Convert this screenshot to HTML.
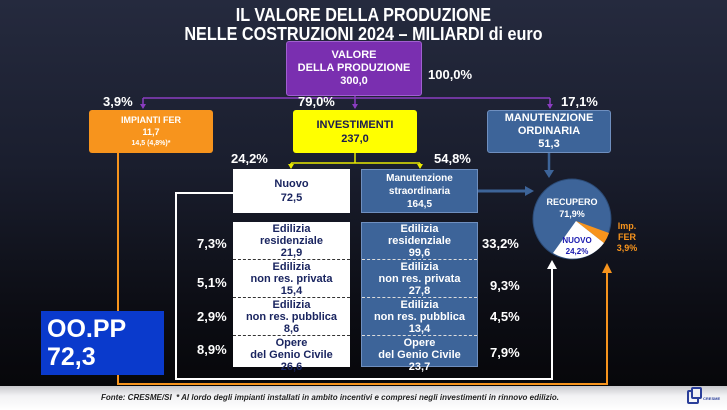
<!DOCTYPE html>
<html><head><meta charset="utf-8"><style>
*{margin:0;padding:0;box-sizing:border-box}
body{width:727px;height:410px;overflow:hidden;position:relative;font-family:"Liberation Sans",sans-serif;font-weight:bold;background:linear-gradient(180deg,#252a3e 0%,#1a1e2e 40%,#0c0d14 75%,#050507 100%);color:#fff}
.a{position:absolute}
.box{position:absolute;text-align:center;display:flex;flex-direction:column;justify-content:center;font-size:11px;line-height:13px}
.t{position:absolute;width:727px;text-align:center;font-size:18px;line-height:20px;transform:scaleX(0.9);transform-origin:363px 0}
.p{position:absolute;font-size:13px;font-weight:bold}
.row{position:absolute;left:0;width:100%;text-align:center;font-size:11px;line-height:12px;font-weight:bold}
</style></head><body>
<div class="t" style="top:5px">IL VALORE DELLA PRODUZIONE</div>
<div class="t" style="top:24px">NELLE COSTRUZIONI 2024 – MILIARDI <span style="font-weight:bold">di euro</span></div>

<svg class="a" style="left:0;top:0" width="727" height="410">
<g stroke="#8a3cc0" stroke-width="1.5" fill="none">
<path d="M355,96 V108"/><path d="M143,98 H550"/><path d="M143,98 V108"/><path d="M550,98 V108"/>
</g>
<path d="M140,104 h6 l-3,5z M352,104 h6 l-3,5z M547,104 h6 l-3,5z" fill="#8a3cc0"/>
<g stroke="#e8e800" stroke-width="1.5" fill="none"><path d="M355,153 V163 M291,163 H420 M291,163 V168 M420,163 V168"/></g>
<path d="M288,164 h6 l-3,5z M417,164 h6 l-3,5z" fill="#e8e800"/>
<path d="M549,153 V172" stroke="#3d6499" stroke-width="2.5"/><path d="M544,170 h10 l-5,8z" fill="#3d6499"/>
<path d="M478,191 H527" stroke="#3d6499" stroke-width="3"/><path d="M525,186 v10 l9,-5z" fill="#3d6499"/>
<path d="M233,193 H176 V379 H552 V268" stroke="#fff" stroke-width="2" fill="none"/>
<path d="M547,269 h10 l-5,-9z" fill="#fff"/>
<path d="M118,153 V384 H607 V272" stroke="#f7941d" stroke-width="2" fill="none"/>
<path d="M602,273 h10 l-5,-10z" fill="#f7941d"/>
<ellipse cx="572" cy="219" rx="39" ry="40" fill="#3d6499" stroke="#2b4a75" stroke-width="1"/>
<path d="M576,221 L553,253 A39,40 0 0 0 604,243 Z" fill="#fff"/>
<path d="M576,221 L604,243 A39,40 0 0 0 609,233 Z" fill="#f7941d"/>
</svg>

<div class="box" style="left:286px;top:41px;width:136px;height:55px;background:#7a2fb0;border:1px solid #a060d0;border-radius:3px;font-size:11px">VALORE<br>DELLA PRODUZIONE<br>300,0</div>
<div class="p" style="left:428px;top:67px">100,0%</div>
<div class="p" style="left:103px;top:94px">3,9%</div>
<div class="p" style="left:298px;top:94px">79,0%</div>
<div class="p" style="left:561px;top:94px">17,1%</div>

<div class="box" style="left:89px;top:110px;width:124px;height:43px;background:#f7941d;border-radius:3px;font-size:9px;line-height:12px">IMPIANTI FER<br>11,7<br><span style="font-size:7px">14,5 (4,8%)*</span></div>
<div class="box" style="left:293px;top:110px;width:124px;height:43px;background:#ffff00;color:#1a1a50;border-radius:3px;font-size:11px;line-height:14px">INVESTIMENTI<br>237,0</div>
<div class="box" style="left:487px;top:110px;width:124px;height:43px;background:#3d6499;border:1px solid #6f8fbf;border-radius:3px;font-size:11px;line-height:13px">MANUTENZIONE<br>ORDINARIA<br>51,3</div>

<div class="p" style="left:231px;top:151px">24,2%</div>
<div class="p" style="left:434px;top:151px">54,8%</div>

<div class="box" style="left:233px;top:169px;width:117px;height:44px;background:#fff;color:#1a2560;font-size:11px;line-height:14px">Nuovo<br>72,5</div>
<div class="box" style="left:361px;top:169px;width:117px;height:44px;background:#3d6499;border:1px solid #6f8fbf;font-size:10px;line-height:13px">Manutenzione<br>straordinaria<br>164,5</div>

<div class="a" style="left:233px;top:222px;width:117px;height:145px;background:#fff;color:#1a2560">
<div class="row" style="top:1px">Edilizia<br>residenziale<br>21,9</div>
<div class="a" style="left:0;top:37px;width:117px;border-top:1px dashed #333"></div>
<div class="row" style="top:39px">Edilizia<br>non res. privata<br>15,4</div>
<div class="a" style="left:0;top:75px;width:117px;border-top:1px dashed #333"></div>
<div class="row" style="top:77px">Edilizia<br>non res. pubblica<br>8,6</div>
<div class="a" style="left:0;top:113px;width:117px;border-top:1px dashed #333"></div>
<div class="row" style="top:115px">Opere<br>del Genio Civile<br>26,6</div>
</div>
<div class="a" style="left:361px;top:222px;width:117px;height:145px;background:#3d6499;border:1px solid #6f8fbf">
<div class="row" style="top:0px">Edilizia<br>residenziale<br>99,6</div>
<div class="a" style="left:0;top:36px;width:115px;border-top:1px dashed #ddd"></div>
<div class="row" style="top:38px">Edilizia<br>non res. privata<br>27,8</div>
<div class="a" style="left:0;top:74px;width:115px;border-top:1px dashed #ddd"></div>
<div class="row" style="top:76px">Edilizia<br>non res. pubblica<br>13,4</div>
<div class="a" style="left:0;top:112px;width:115px;border-top:1px dashed #ddd"></div>
<div class="row" style="top:114px">Opere<br>del Genio Civile<br>23,7</div>
</div>

<div class="p" style="left:197px;top:236px">7,3%</div>
<div class="p" style="left:197px;top:275px">5,1%</div>
<div class="p" style="left:197px;top:309px">2,9%</div>
<div class="p" style="left:197px;top:342px">8,9%</div>
<div class="p" style="left:482px;top:236px">33,2%</div>
<div class="p" style="left:490px;top:278px">9,3%</div>
<div class="p" style="left:490px;top:309px">4,5%</div>
<div class="p" style="left:490px;top:345px">7,9%</div>

<div class="a" style="left:540px;top:196px;width:64px;text-align:center;font-size:9px;line-height:12px">RECUPERO<br>71,9%</div>
<div class="a" style="left:559px;top:235px;width:36px;text-align:center;font-size:8px;line-height:11px;color:#1a1ab0">NUOVO<br>24,2%</div>
<div class="a" style="left:612px;top:221px;width:30px;text-align:center;font-size:9px;line-height:11px;color:#f7941d">Imp.<br>FER<br>3,9%</div>

<div class="a" style="left:41px;top:311px;width:123px;height:64px;background:#0a3acc;padding:4px 0 0 6px;font-size:25px;line-height:28px;text-align:left">OO.PP<br>72,3</div>

<div class="a" style="left:0;top:386px;width:727px;height:24px;background:linear-gradient(180deg,#c8c8cc,#f2f2f4 40%,#ffffff)"></div>
<div class="a" style="left:101px;top:393px;font-size:8px;font-style:italic;color:#222;font-weight:bold">Fonte: CRESME/SI &nbsp;* Al lordo degli impianti installati in ambito incentivi e compresi negli investimenti in rinnovo edilizio.</div>
<div class="a" style="left:687px;top:390px;width:12px;height:14px;border:2px solid #2b3f9a;border-radius:2px"></div>
<div class="a" style="left:691px;top:387px;width:11px;height:12px;border:2px solid #2b3f9a;border-radius:2px;background:#f2f2f4"></div>
<div class="a" style="left:703px;top:396px;font-size:4px;color:#2b3f9a">CRESME</div>
</body></html>
